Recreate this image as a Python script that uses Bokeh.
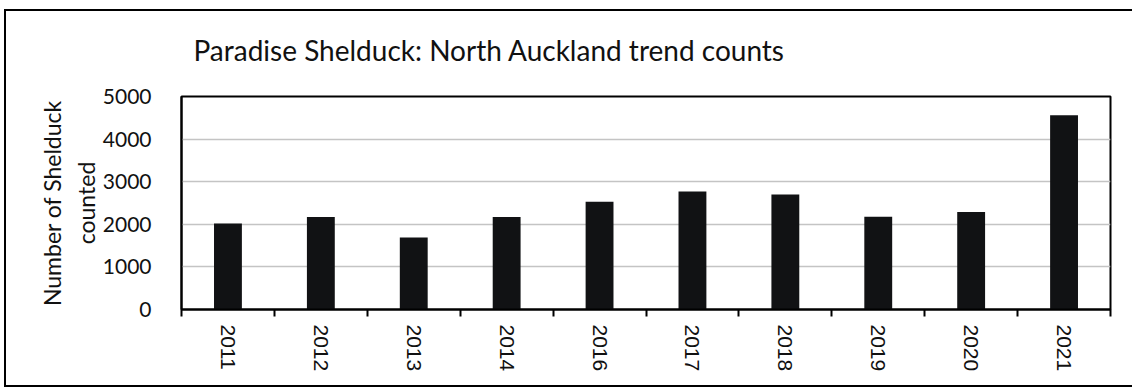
import math
from bokeh.plotting import figure
from bokeh.models import (ColumnDataSource, FixedTicker, CustomJSTickFormatter, Range1d)
from bokeh.embed import file_html
from bokeh.resources import INLINE

years = ["2011", "2012", "2013", "2014", "2016", "2017", "2018", "2019", "2020", "2021"]
counts = [2020, 2170, 1690, 2170, 2530, 2770, 2700, 2180, 2290, 4560]
y_ticks = [0, 1000, 2000, 3000, 4000, 5000]

n = len(years)
src = ColumnDataSource(dict(x=[i + 0.5 for i in range(n)], top=counts, year=years))

p = figure(width=1132, height=389, output_backend="svg", toolbar_location=None,
           x_range=Range1d(0, n), y_range=Range1d(0, 5000),
           min_border_left=181, min_border_right=22, min_border_top=96,
           min_border_bottom=80)

p.vbar(x="x", top="top", width=0.3, source=src, fill_color="#111214", line_color=None)

p.title.text = "Paradise Shelduck:  North Auckland trend counts"
p.title.text_font = "Lato"
p.title.text_font_size = "28px"
p.title.text_font_style = "normal"
p.title.text_color = "#111111"
p.title.offset = 12
p.title.standoff = 60

p.outline_line_color = "black"
p.outline_line_width = 2
p.outline_line_alpha = 1

# x axis
p.xaxis.ticker = FixedTicker(ticks=[i + 0.5 for i in range(n)], minor_ticks=list(range(n + 1)))
p.xaxis.formatter = CustomJSTickFormatter(args=dict(labels=years),
                                          code="return labels[Math.floor(tick)];")
p.xaxis.major_tick_line_color = None
p.xaxis.minor_tick_in = 0
p.xaxis.minor_tick_out = 7
p.xaxis.minor_tick_line_color = "black"
p.xaxis.minor_tick_line_width = 2
p.xaxis.axis_line_color = "black"
p.xaxis.axis_line_width = 2
p.xaxis.major_label_orientation = -math.pi / 2
p.xaxis.major_label_text_font = "Liberation Sans"
p.xaxis.major_label_text_font_size = "21px"
p.xaxis.major_label_text_color = "#111111"
p.xaxis.major_label_standoff = 8

# y axis
p.yaxis.ticker = FixedTicker(ticks=y_ticks)
p.yaxis.major_tick_line_color = None
p.yaxis.minor_tick_line_color = None
p.yaxis.axis_line_color = "black"
p.yaxis.axis_line_width = 2
p.yaxis.major_label_text_font = "Lato"
p.yaxis.major_label_text_font_size = "21px"
p.yaxis.major_label_text_color = "#111111"
p.yaxis.major_label_standoff = 24
p.yaxis.axis_label = "Number of Shelduck\ncounted"
p.yaxis.axis_label_text_font = "Lato"
p.yaxis.axis_label_text_font_size = "23px"
p.yaxis.axis_label_text_font_style = "normal"
p.yaxis.axis_label_text_color = "#111111"
p.yaxis.axis_label_standoff = 0

p.xgrid.grid_line_color = None
p.ygrid.ticker = FixedTicker(ticks=y_ticks)
p.ygrid.grid_line_color = "#c4c4c4"
p.ygrid.grid_line_width = 1.5

# outer scanned-page frame, drawn as the page background behind a transparent border
p.border_fill_color = None
p.background_fill_color = "white"
p.styles = {
    "background-color": "white",
    "background-image": "linear-gradient(black, black), linear-gradient(black, black), linear-gradient(black, black)",
    "background-size": "2px 377px, 1130px 2px, 1130px 2px",
    "background-position": "4px 9px, 4px 9px, 4px 385px",
    "background-repeat": "no-repeat",
}

open("out.html", "w").write(file_html(p, INLINE))
